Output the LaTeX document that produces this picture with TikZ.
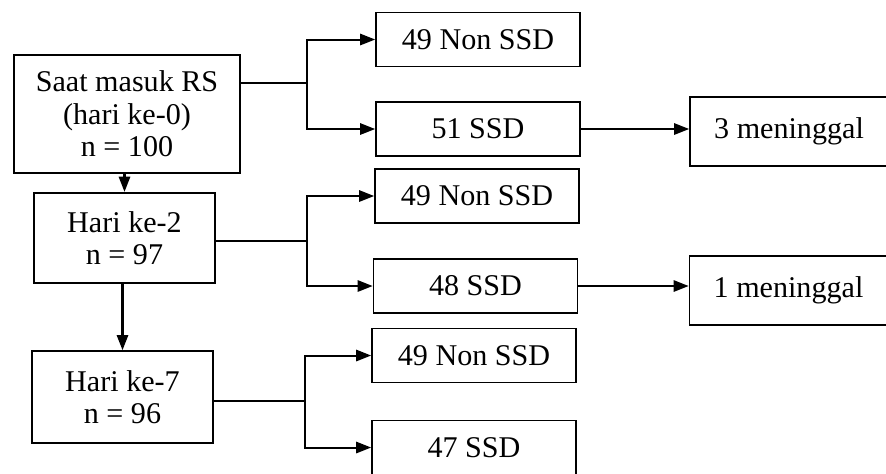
\documentclass[tikz,border=0pt]{standalone}
\usepackage{fontspec}
\setmainfont{Liberation Serif}
\usetikzlibrary{arrows.meta,positioning}

\begin{document}
\begin{tikzpicture}[x=0.014cm, y=-0.014cm,
    box/.style={rectangle, draw=black, line width=0.7pt, align=center,
                inner sep=0pt, font=\fontsize{12}{13}\selectfont},
    daybox/.style={box, minimum width=2.534cm, minimum height=1.27cm},
    grpbox/.style={box, minimum width=2.856cm, minimum height=0.756cm},
    deadbox/.style={box, minimum width=2.772cm, minimum height=0.966cm},
    link/.style={line width=0.8pt},
    arr/.style={-{Triangle[length=6pt, width=4.5pt]}, line width=0.8pt}]
\useasboundingbox (0,0) rectangle (886,473);
% left column
\node[box, minimum width=3.164cm, minimum height=1.652cm] (masuk) at (127,114)
    {Saat masuk RS\\(hari ke-0)\\n = 100};
\node[daybox] (hari2) at (124.5,238) {Hari ke-2\\n = 97};
\node[daybox, minimum height=1.288cm] (hari7) at (122.5,397) {Hari ke-7\\n = 96};
% middle column
\node[grpbox] (non0) at (478,39.5) {49 Non SSD};
\node[grpbox] (ssd0) at (478,129) {51 SSD};
\node[grpbox] (non2) at (477,196) {49 Non SSD};
\node[grpbox] (ssd2) at (475.5,286) {48 SSD};
\node[grpbox] (non7) at (474,355.5) {49 Non SSD};
\node[grpbox] (ssd7) at (474,447.5) {47 SSD};
% right column
\node[deadbox] (mati0) at (789,131.5) {3 meninggal};
\node[deadbox] (mati2) at (788.5,290.5) {1 meninggal};
% forks
\coordinate (f0) at (307,83);
\coordinate (f2) at (307,241);
\coordinate (f7) at (305,401);
\draw[link] (f0 -| masuk.east) -- (f0);
\draw[arr] (f0) |- (non0);
\draw[arr] (f0) |- (ssd0);
\draw[link] (f2 -| hari2.east) -- (f2);
\draw[arr] (f2) |- (non2);
\draw[arr] (f2) |- (ssd2);
\draw[link] (f7 -| hari7.east) -- (f7);
\draw[arr] (f7) |- (non7);
\draw[arr] (f7) |- (ssd7);
% down the days
\draw[arr] (hari2.north |- masuk.south) -- (hari2.north);
\draw[arr] (hari2.south -| hari7.north) -- (hari7.north);
% deaths
\draw[arr] (ssd0.east) -- (ssd0.east -| mati0.west);
\draw[arr] (ssd2.east) -- (ssd2.east -| mati2.west);
\end{tikzpicture}
\end{document}
